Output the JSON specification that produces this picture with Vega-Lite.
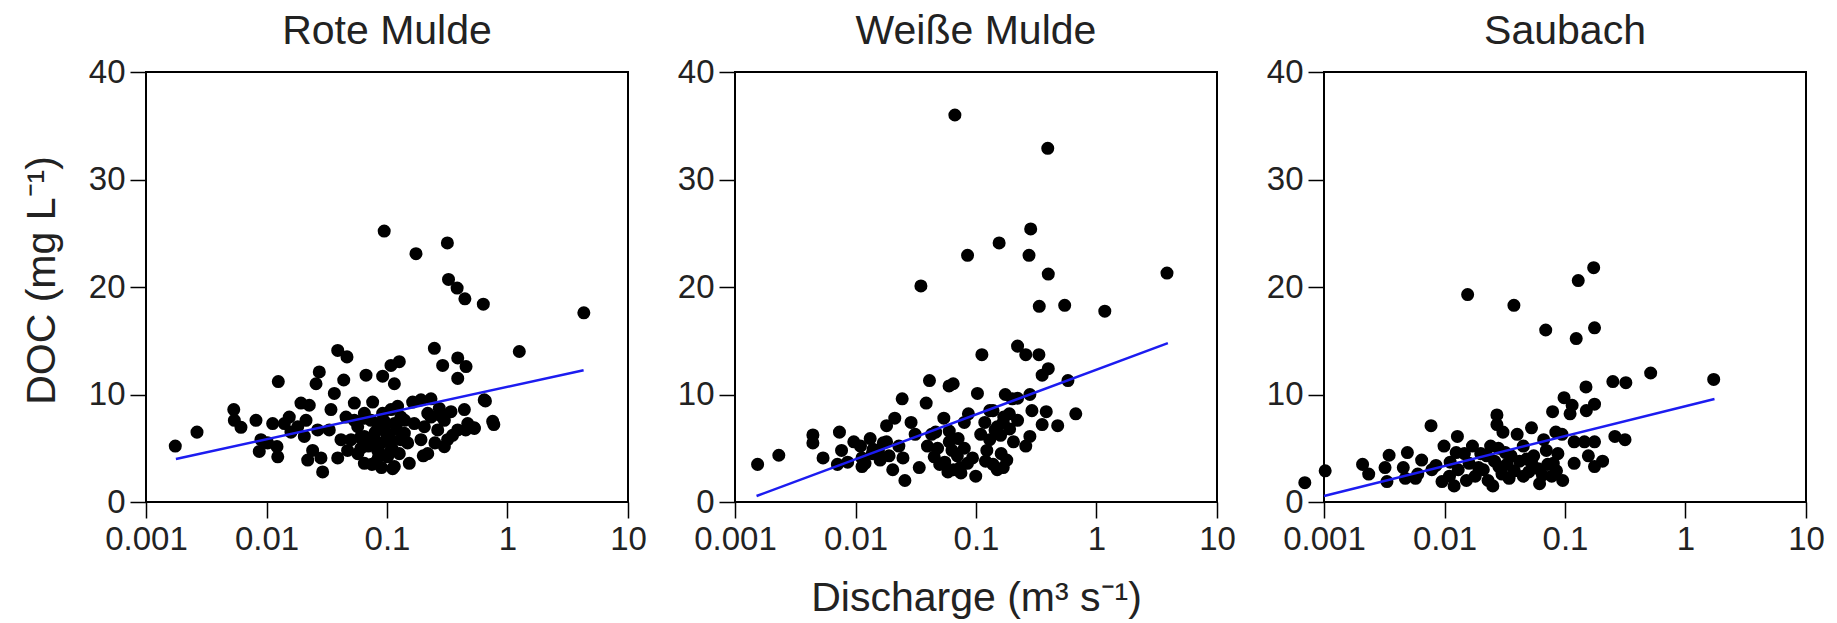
{
"$schema": "https://vega.github.io/schema/vega-lite/v6.json",
"autosize": {"type": "pad"},
"padding": {"left": 20, "top": 10, "right": 5, "bottom": 0},
"background": "white",
"spacing": 107,
"bounds": "flush",
"datasets": {
"rote": [
{"Q":0.00175,"DOC":5.2},{"Q":0.00265,"DOC":6.5},{"Q":0.00535,"DOC":8.6},{"Q":0.00541,"DOC":7.6},{"Q":0.00614,"DOC":6.95},{"Q":0.00818,"DOC":7.6},{"Q":0.00899,"DOC":5.8},{"Q":0.00871,"DOC":4.7},{"Q":0.01253,"DOC":11.2},{"Q":0.01125,"DOC":7.3},{"Q":0.01222,"DOC":5.15},{"Q":0.0124,"DOC":4.2},{"Q":0.01545,"DOC":7.9},{"Q":0.01596,"DOC":6.5},{"Q":0.01932,"DOC":9.2},{"Q":0.02265,"DOC":9.0},{"Q":0.02128,"DOC":7.6},{"Q":0.0206,"DOC":6.1},{"Q":0.02576,"DOC":11.0},{"Q":0.02742,"DOC":12.1},{"Q":0.02415,"DOC":4.8},{"Q":0.02831,"DOC":4.1},{"Q":0.02924,"DOC":2.8},{"Q":0.03656,"DOC":10.1},{"Q":0.03428,"DOC":8.6},{"Q":0.03319,"DOC":6.7},{"Q":0.039,"DOC":4.1},{"Q":0.039,"DOC":14.1},{"Q":0.04656,"DOC":13.5},{"Q":0.04375,"DOC":11.35},{"Q":0.04571,"DOC":7.9},{"Q":0.05358,"DOC":9.2},{"Q":0.05023,"DOC":5.8},{"Q":0.05715,"DOC":7.0},{"Q":0.06081,"DOC":5.0},{"Q":0.06699,"DOC":11.8},{"Q":0.06486,"DOC":3.6},{"Q":0.07603,"DOC":9.3},{"Q":0.07362,"DOC":7.6},{"Q":0.07852,"DOC":5.8},{"Q":0.0785,"DOC":3.6},{"Q":0.09204,"DOC":11.7},{"Q":0.1079,"DOC":12.7},{"Q":0.1265,"DOC":13.05},{"Q":0.1151,"DOC":11.0},{"Q":0.092,"DOC":8.25},{"Q":0.0951,"DOC":6.7},{"Q":0.1079,"DOC":8.6},{"Q":0.1151,"DOC":7.3},{"Q":0.1079,"DOC":5.8},{"Q":0.1114,"DOC":3.1},{"Q":0.1306,"DOC":7.9},{"Q":0.1393,"DOC":6.4},{"Q":0.1265,"DOC":4.5},{"Q":0.1531,"DOC":3.6},{"Q":0.1633,"DOC":9.3},{"Q":0.1914,"DOC":9.5},{"Q":0.2317,"DOC":9.6},{"Q":0.1683,"DOC":7.3},{"Q":0.1914,"DOC":5.8},{"Q":0.2178,"DOC":4.5},{"Q":0.2317,"DOC":7.9},{"Q":0.2636,"DOC":6.7},{"Q":0.2472,"DOC":14.3},{"Q":0.2897,"DOC":12.7},{"Q":0.3864,"DOC":13.4},{"Q":0.4529,"DOC":12.6},{"Q":0.3864,"DOC":11.5},{"Q":0.3396,"DOC":8.4},{"Q":0.3184,"DOC":5.8},{"Q":0.2992,"DOC":5.15},{"Q":0.386,"DOC":6.7},{"Q":0.4385,"DOC":8.6},{"Q":0.4677,"DOC":7.3},{"Q":0.5309,"DOC":6.85},{"Q":0.6412,"DOC":9.5},{"Q":0.7534,"DOC":7.5},{"Q":1.253,"DOC":14.0},{"Q":0.0536,"DOC":7.6},{"Q":0.0649,"DOC":6.1},{"Q":0.08375,"DOC":4.8},{"Q":0.0649,"DOC":8.25},{"Q":0.1012,"DOC":4.2},{"Q":0.1483,"DOC":5.5},{"Q":0.1225,"DOC":8.9},{"Q":0.0838,"DOC":7.3},{"Q":0.2042,"DOC":7.0},{"Q":0.2716,"DOC":8.7},{"Q":0.0415,"DOC":5.8},{"Q":0.0266,"DOC":6.7},{"Q":0.01816,"DOC":7.0},{"Q":0.01023,"DOC":5.5},{"Q":0.01406,"DOC":7.3},{"Q":0.02198,"DOC":3.9},{"Q":0.2178,"DOC":8.25},{"Q":0.2992,"DOC":7.6},{"Q":0.0572,"DOC":4.5},{"Q":0.0471,"DOC":4.8},
{"Q":0.0948,"DOC":25.2},{"Q":0.174,"DOC":23.1},{"Q":0.317,"DOC":24.1},{"Q":0.324,"DOC":20.7},{"Q":0.382,"DOC":19.9},{"Q":0.443,"DOC":18.9},{"Q":0.63,"DOC":18.4},{"Q":4.3,"DOC":17.6},{"Q":0.656,"DOC":9.4},{"Q":0.77,"DOC":7.2},{"Q":0.53,"DOC":6.9},
{"Q":0.06,"DOC":6.0},{"Q":0.07,"DOC":5.2},{"Q":0.08,"DOC":6.5},{"Q":0.09,"DOC":5.5},{"Q":0.1,"DOC":6.3},{"Q":0.11,"DOC":5.0},{"Q":0.12,"DOC":6.8},{"Q":0.13,"DOC":5.8},{"Q":0.085,"DOC":4.2},{"Q":0.075,"DOC":3.5},{"Q":0.065,"DOC":7.8},{"Q":0.095,"DOC":7.5},{"Q":0.14,"DOC":7.6},{"Q":0.105,"DOC":4.6},{"Q":0.115,"DOC":3.3},{"Q":0.09,"DOC":3.2},{"Q":0.2,"DOC":4.3},{"Q":0.25,"DOC":5.5},{"Q":0.35,"DOC":6.2},{"Q":0.28,"DOC":8.0},{"Q":0.45,"DOC":6.7}
],
"weisse": [
{"Q":0.00154,"DOC":3.5},{"Q":0.00231,"DOC":4.35},{"Q":0.0668,"DOC":36.0},{"Q":0.394,"DOC":32.9},{"Q":0.0349,"DOC":20.1},{"Q":0.0851,"DOC":22.95},{"Q":0.1556,"DOC":24.1},{"Q":0.2844,"DOC":25.4},{"Q":0.2754,"DOC":22.95},{"Q":0.398,"DOC":21.2},{"Q":3.846,"DOC":21.3},{"Q":0.335,"DOC":18.2},{"Q":0.5445,"DOC":18.3},{"Q":1.172,"DOC":17.75},{"Q":0.1119,"DOC":13.7},{"Q":0.2213,"DOC":14.5},{"Q":0.2588,"DOC":13.7},{"Q":0.3327,"DOC":13.7},{"Q":0.398,"DOC":12.4},{"Q":0.354,"DOC":11.8},{"Q":0.5794,"DOC":11.3},{"Q":0.673,"DOC":8.2},{"Q":0.0411,"DOC":11.3},{"Q":0.0598,"DOC":10.8},{"Q":0.0647,"DOC":11.0},{"Q":0.0386,"DOC":9.2},{"Q":0.0244,"DOC":9.6},{"Q":0.1028,"DOC":10.1},{"Q":0.175,"DOC":10.0},{"Q":0.2213,"DOC":9.65},{"Q":0.2799,"DOC":10.0},{"Q":0.2911,"DOC":8.5},{"Q":0.3828,"DOC":8.4},{"Q":0.4764,"DOC":7.1},{"Q":0.354,"DOC":7.2},{"Q":0.28,"DOC":6.1},{"Q":0.2588,"DOC":5.2},
{"Q":0.00443,"DOC":6.24},{"Q":0.00443,"DOC":5.5},{"Q":0.00538,"DOC":4.1},{"Q":0.00736,"DOC":6.5},{"Q":0.00766,"DOC":4.8},{"Q":0.00708,"DOC":3.5},{"Q":0.00861,"DOC":3.7},{"Q":0.00968,"DOC":5.6},{"Q":0.01132,"DOC":4.1},{"Q":0.01324,"DOC":5.9},{"Q":0.01132,"DOC":3.3},{"Q":0.01549,"DOC":4.8},{"Q":0.01811,"DOC":7.1},{"Q":0.02118,"DOC":7.8},{"Q":0.02037,"DOC":3.0},{"Q":0.0257,"DOC":2.0},{"Q":0.02477,"DOC":4.1},{"Q":0.02891,"DOC":7.4},{"Q":0.03126,"DOC":6.3},{"Q":0.03381,"DOC":3.2},{"Q":0.03954,"DOC":5.2},{"Q":0.04624,"DOC":6.5},{"Q":0.05408,"DOC":7.8},{"Q":0.05,"DOC":3.5},{"Q":0.05848,"DOC":2.8},{"Q":0.06324,"DOC":4.8},{"Q":0.07112,"DOC":5.9},{"Q":0.07998,"DOC":7.4},{"Q":0.07396,"DOC":3.2},{"Q":0.0865,"DOC":8.2},{"Q":0.09354,"DOC":4.1},{"Q":0.0995,"DOC":2.4},{"Q":0.1094,"DOC":6.3},{"Q":0.1183,"DOC":7.4},{"Q":0.123,"DOC":4.8},{"Q":0.1384,"DOC":8.5},{"Q":0.1439,"DOC":6.7},{"Q":0.1384,"DOC":3.5},{"Q":0.1618,"DOC":4.5},{"Q":0.1683,"DOC":7.4},{"Q":0.1892,"DOC":8.2},{"Q":0.2046,"DOC":5.6},{"Q":0.2213,"DOC":7.6},{"Q":0.1683,"DOC":3.2},
{"Q":0.01377,"DOC":4.5},{"Q":0.0181,"DOC":5.6},{"Q":0.0229,"DOC":5.2},{"Q":0.0428,"DOC":6.3},{"Q":0.011,"DOC":5.2},{"Q":0.012,"DOC":3.6},{"Q":0.014,"DOC":4.9},{"Q":0.016,"DOC":3.9},{"Q":0.017,"DOC":5.5},{"Q":0.019,"DOC":4.3},{"Q":0.055,"DOC":3.7},{"Q":0.06,"DOC":5.6},{"Q":0.065,"DOC":3.0},{"Q":0.07,"DOC":4.3},{"Q":0.075,"DOC":2.7},{"Q":0.08,"DOC":5.0},{"Q":0.085,"DOC":3.6},{"Q":0.06,"DOC":6.6},{"Q":0.045,"DOC":4.2},{"Q":0.048,"DOC":5.0},{"Q":0.13,"DOC":5.8},{"Q":0.15,"DOC":3.0},{"Q":0.16,"DOC":6.2},{"Q":0.18,"DOC":3.9},{"Q":0.17,"DOC":7.9},{"Q":0.15,"DOC":7.0},{"Q":0.19,"DOC":6.8},{"Q":0.2,"DOC":9.6},{"Q":0.13,"DOC":8.5},{"Q":0.12,"DOC":3.8}
],
"saubach": [
{"Q":0.000693,"DOC":1.8},{"Q":0.001023,"DOC":2.9},{"Q":0.01556,"DOC":19.3},{"Q":0.03767,"DOC":18.3},{"Q":0.06918,"DOC":16.0},{"Q":0.1239,"DOC":15.2},{"Q":0.1288,"DOC":20.6},{"Q":0.173,"DOC":21.8},{"Q":0.1758,"DOC":16.2},{"Q":0.514,"DOC":12.0},{"Q":1.714,"DOC":11.4},{"Q":0.2495,"DOC":11.2},{"Q":0.3199,"DOC":11.1},{"Q":0.1493,"DOC":10.7},{"Q":0.0982,"DOC":9.7},{"Q":0.1146,"DOC":9.0},{"Q":0.1758,"DOC":9.1},{"Q":0.0789,"DOC":8.4},{"Q":0.1102,"DOC":8.2},{"Q":0.1503,"DOC":8.5},{"Q":0.2594,"DOC":6.1},{"Q":0.3148,"DOC":5.8},{"Q":0.2051,"DOC":3.8},{"Q":0.1758,"DOC":3.3},{"Q":0.1191,"DOC":3.6},{"Q":0.0957,"DOC":2.0},{"Q":0.00773,"DOC":7.1},{"Q":0.02723,"DOC":8.1},{"Q":0.02723,"DOC":7.2},{"Q":0.0128,"DOC":6.1},{"Q":0.00209,"DOC":3.5},{"Q":0.00235,"DOC":2.6},{"Q":0.00347,"DOC":4.35},{"Q":0.00321,"DOC":3.2},{"Q":0.00333,"DOC":1.9},{"Q":0.00492,"DOC":4.6},{"Q":0.00455,"DOC":3.2},{"Q":0.00575,"DOC":2.2},{"Q":0.00646,"DOC":3.9},{"Q":0.00785,"DOC":3.0},{"Q":0.00991,"DOC":5.2},{"Q":0.00953,"DOC":1.9},{"Q":0.01114,"DOC":3.7},{"Q":0.01202,"DOC":1.5},{"Q":0.01462,"DOC":4.5},{"Q":0.0152,"DOC":2.0},{"Q":0.01706,"DOC":5.2},{"Q":0.01919,"DOC":3.2},{"Q":0.02239,"DOC":4.3},{"Q":0.02415,"DOC":5.2},{"Q":0.02518,"DOC":1.5},{"Q":0.02825,"DOC":3.3},{"Q":0.03055,"DOC":6.5},{"Q":0.03436,"DOC":2.2},{"Q":0.03573,"DOC":4.3},{"Q":0.04009,"DOC":6.3},{"Q":0.04508,"DOC":5.2},{"Q":0.0451,"DOC":2.4},{"Q":0.05272,"DOC":6.9},{"Q":0.0527,"DOC":3.7},{"Q":0.06152,"DOC":1.7},{"Q":0.06653,"DOC":5.8},{"Q":0.07194,"DOC":3.5},{"Q":0.07762,"DOC":2.4},{"Q":0.0873,"DOC":4.5},{"Q":0.09441,"DOC":6.3},{"Q":0.08395,"DOC":6.5},{"Q":0.1191,"DOC":5.6},{"Q":0.1449,"DOC":5.6},{"Q":0.1758,"DOC":5.6},{"Q":0.1563,"DOC":4.3},{"Q":0.00473,"DOC":2.2},
{"Q":0.006,"DOC":2.6},{"Q":0.0085,"DOC":3.4},{"Q":0.011,"DOC":2.4},{"Q":0.013,"DOC":3.0},{"Q":0.016,"DOC":3.6},{"Q":0.018,"DOC":2.4},{"Q":0.021,"DOC":3.0},{"Q":0.023,"DOC":2.0},{"Q":0.026,"DOC":3.8},{"Q":0.03,"DOC":2.6},{"Q":0.033,"DOC":3.5},{"Q":0.038,"DOC":2.9},{"Q":0.042,"DOC":3.8},{"Q":0.05,"DOC":2.8},{"Q":0.055,"DOC":4.3},{"Q":0.06,"DOC":3.1},{"Q":0.065,"DOC":2.5},{"Q":0.07,"DOC":4.8},{"Q":0.08,"DOC":3.6},{"Q":0.085,"DOC":2.9},{"Q":0.028,"DOC":5.0},{"Q":0.032,"DOC":4.6},{"Q":0.048,"DOC":4.0},{"Q":0.02,"DOC":4.5},{"Q":0.0125,"DOC":4.6}
],
"rote_fit": [{"Q":0.00177,"DOC":4.0},{"Q":4.28,"DOC":12.26}],
"weisse_fit": [{"Q":0.00151,"DOC":0.56},{"Q":3.91,"DOC":14.78}],
"saubach_fit": [{"Q":0.001,"DOC":0.56},{"Q":1.74,"DOC":9.58}]
},
"hconcat": [
{
"width": 482, "height": 430,
"title": {"text": "Rote Mulde"},
"layer": [
{"data": {"name": "rote"}, "mark": {"type": "circle", "size": 170, "color": "black", "opacity": 1},
 "encoding": {
  "x": {"field": "Q", "type": "quantitative", "scale": {"type": "log", "domain": [0.001, 10], "nice": false}, "axis": {"values": [0.001, 0.01, 0.1, 1, 10], "format": "~g", "title": null}},
  "y": {"field": "DOC", "type": "quantitative", "scale": {"domain": [0, 40], "nice": false}, "axis": {"values": [0, 10, 20, 30, 40], "title": "DOC (mg L⁻¹)", "titleAngle": 270, "titleX": -92, "titleY": 208, "titleAlign": "center", "titleBaseline": "alphabetic"}}
 }},
{"data": {"name": "rote_fit"}, "mark": {"type": "line", "color": "#1c1cf0", "strokeWidth": 2.5},
 "encoding": {"x": {"field": "Q", "type": "quantitative"}, "y": {"field": "DOC", "type": "quantitative"}}}
]
},
{
"width": 482, "height": 430,
"title": {"text": "Weiße Mulde"},
"layer": [
{"data": {"name": "weisse"}, "mark": {"type": "circle", "size": 170, "color": "black", "opacity": 1},
 "encoding": {
  "x": {"field": "Q", "type": "quantitative", "scale": {"type": "log", "domain": [0.001, 10], "nice": false}, "axis": {"values": [0.001, 0.01, 0.1, 1, 10], "format": "~g", "title": "Discharge (m³ s⁻¹)", "titleX": 241, "titleY": 108, "titleAlign": "center", "titleBaseline": "alphabetic"}},
  "y": {"field": "DOC", "type": "quantitative", "scale": {"domain": [0, 40], "nice": false}, "axis": {"values": [0, 10, 20, 30, 40], "title": null}}
 }},
{"data": {"name": "weisse_fit"}, "mark": {"type": "line", "color": "#1c1cf0", "strokeWidth": 2.5},
 "encoding": {"x": {"field": "Q", "type": "quantitative"}, "y": {"field": "DOC", "type": "quantitative"}}}
]
},
{
"width": 482, "height": 430,
"title": {"text": "Saubach"},
"layer": [
{"data": {"name": "saubach"}, "mark": {"type": "circle", "size": 170, "color": "black", "opacity": 1},
 "encoding": {
  "x": {"field": "Q", "type": "quantitative", "scale": {"type": "log", "domain": [0.001, 10], "nice": false}, "axis": {"values": [0.001, 0.01, 0.1, 1, 10], "format": "~g", "title": null}},
  "y": {"field": "DOC", "type": "quantitative", "scale": {"domain": [0, 40], "nice": false}, "axis": {"values": [0, 10, 20, 30, 40], "title": null}}
 }},
{"data": {"name": "saubach_fit"}, "mark": {"type": "line", "color": "#1c1cf0", "strokeWidth": 2.5},
 "encoding": {"x": {"field": "Q", "type": "quantitative"}, "y": {"field": "DOC", "type": "quantitative"}}}
]
}
],
"config": {
 "font": "Liberation Sans",
 "view": {"stroke": "black", "strokeWidth": 2},
 "axis": {"domain": false, "grid": false, "ticks": true, "tickColor": "black", "tickWidth": 1.5, "tickSize": 16, "labelFontSize": 33, "labelColor": "#222", "labelPadding": 5, "labelFlush": false, "labelOverlap": false, "titleFontSize": 41, "titleColor": "#222", "titleFontWeight": "normal"},
 "title": {"fontSize": 41, "fontWeight": "normal", "color": "#222", "offset": 3, "baseline": "alphabetic", "anchor": "middle"}
}
}
